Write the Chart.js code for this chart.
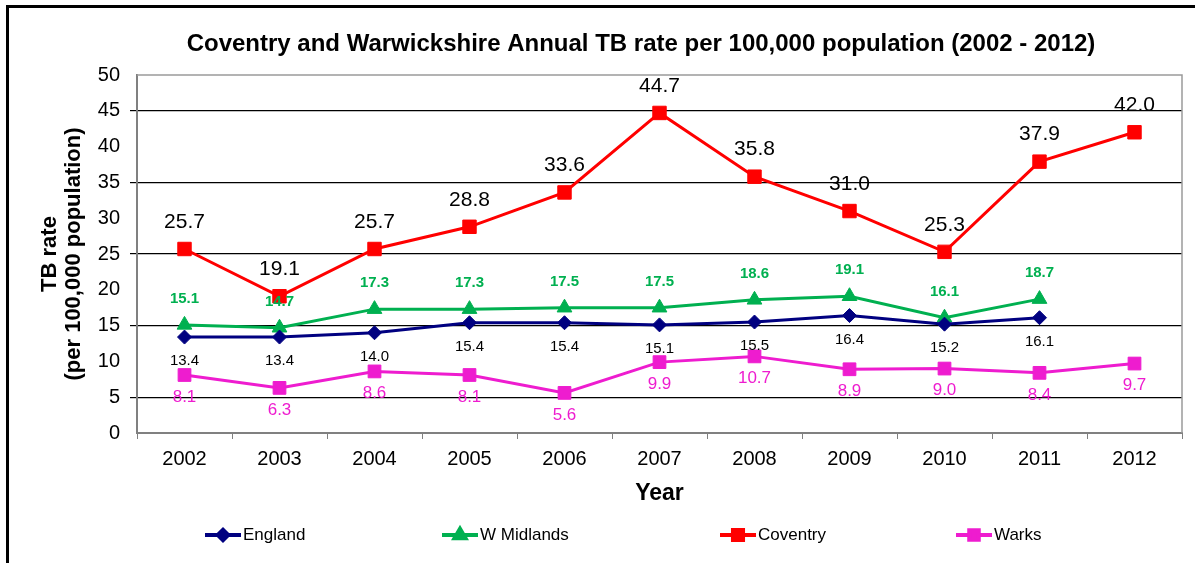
<!DOCTYPE html>
<html>
<head>
<meta charset="utf-8">
<script src="https://cdn.jsdelivr.net/npm/chart.js@4.4.1/dist/chart.umd.min.js"></script>
<style>
  html, body { margin: 0; padding: 0; background: #fff; width: 1195px; height: 563px; overflow: hidden; }
  #frame { position: absolute; left: 6px; top: 5px; width: 1300px; height: 700px; border-left: 3px solid #000; border-top: 3px solid #000; }
  #wrap { position: absolute; left: 0; top: 0; width: 1195px; height: 563px; }
</style>
</head>
<body>
<div id="frame"></div>
<div id="wrap"><canvas id="c" width="1195" height="563"></canvas></div>
<script>
const years = ['2002','2003','2004','2005','2006','2007','2008','2009','2010','2011','2012'];
const england   = [13.4, 13.4, 14.0, 15.4, 15.4, 15.1, 15.5, 16.4, 15.2, 16.1, null];
const wMidlands = [15.1, 14.7, 17.3, 17.3, 17.5, 17.5, 18.6, 19.1, 16.1, 18.7, null];
const coventry  = [25.7, 19.1, 25.7, 28.8, 33.6, 44.7, 35.8, 31.0, 25.3, 37.9, 42.0];
const warks     = [8.1, 6.3, 8.6, 8.1, 5.6, 9.9, 10.7, 8.9, 9.0, 8.4, 9.7];
const yTicks = [0, 5, 10, 15, 20, 25, 30, 35, 40, 45, 50];

const titleText = 'Coventry and Warwickshire Annual TB rate per 100,000 population (2002 - 2012)';
const FONT = '"Liberation Sans", Arial, sans-serif';

const NAVY = '#000080', GREEN = '#00B050', RED = '#FF0000', MAGENTA = '#EE1CCF';

// label styling per dataset: colour, font, offset (px, negative = above)
const labelStyle = [
  { color: '#000', font: '15px ' + FONT, dy: 24 },
  { color: GREEN, font: 'bold 15px ' + FONT, dy: -26 },
  { color: '#000', font: '21px ' + FONT, dy: -27 },
  { color: MAGENTA, font: '17px ' + FONT, dy: 22 }
];

const dataLabels = {
  id: 'dataLabels',
  afterDatasetsDraw(chart) {
    const ctx = chart.ctx;
    chart.data.datasets.forEach((ds, i) => {
      const meta = chart.getDatasetMeta(i);
      const st = labelStyle[i];
      ctx.save();
      ctx.font = st.font;
      ctx.fillStyle = st.color;
      ctx.textAlign = 'center';
      ctx.textBaseline = 'middle';
      meta.data.forEach((pt, j) => {
        const v = ds.data[j];
        if (v === null || v === undefined) return;
        ctx.fillText(v.toFixed(1), pt.x, pt.y + st.dy);
      });
      ctx.restore();
    });
  }
};

const frameBox = {
  id: 'frameBox',
  beforeDatasetsDraw(chart) {
    const a = chart.chartArea, ctx = chart.ctx;
    ctx.save();
    ctx.strokeStyle = '#9a9a9a';
    ctx.lineWidth = 1.5;
    ctx.beginPath();
    ctx.moveTo(a.left, a.top);
    ctx.lineTo(a.right, a.top);
    ctx.lineTo(a.right, a.bottom);
    ctx.stroke();
    ctx.restore();
  }
};

const chartTitle = {
  id: 'chartTitle',
  afterDraw(chart) {
    const ctx = chart.ctx;
    ctx.save();
    ctx.font = 'bold 24px ' + FONT;
    ctx.fillStyle = '#000';
    ctx.textAlign = 'center';
    ctx.textBaseline = 'middle';
    ctx.fillText(titleText, 641, 44);
    ctx.restore();
  }
};

const legendSlots = [205, 442, 720, 956];
const customLegend = {
  id: 'customLegend',
  afterDraw(chart) {
    const ctx = chart.ctx;
    const y = 535;
    chart.data.datasets.forEach((ds, i) => {
      const x0 = legendSlots[i];
      ctx.save();
      ctx.strokeStyle = ds.borderColor;
      ctx.lineWidth = 4;
      ctx.beginPath();
      ctx.moveTo(x0, y);
      ctx.lineTo(x0 + 36, y);
      ctx.stroke();
      ctx.fillStyle = ds.pointBackgroundColor;
      ctx.strokeStyle = ds.pointBorderColor;
      Chart.helpers.drawPoint(ctx, {
        pointStyle: ds.pointStyle,
        radius: ds.pointRadius * 0.75,
        rotation: 0,
        borderWidth: 1
      }, x0 + 18, y);
      ctx.font = '17px ' + FONT;
      ctx.fillStyle = '#000';
      ctx.textAlign = 'left';
      ctx.textBaseline = 'middle';
      ctx.fillText(ds.label, x0 + 38, y);
      ctx.restore();
    });
  }
};

function mkDs(label, data, color, style, radius) {
  return {
    label, data,
    borderColor: color,
    backgroundColor: color,
    pointBackgroundColor: color,
    pointBorderColor: color,
    borderWidth: 3,
    pointStyle: style,
    pointRadius: radius,
    pointHoverRadius: radius,
    pointBorderWidth: 1,
    tension: 0,
    spanGaps: false
  };
}

new Chart(document.getElementById('c'), {
  type: 'line',
  data: {
    labels: years,
    datasets: [
      mkDs('England', england, NAVY, 'rectRot', 7),
      mkDs('W Midlands', wMidlands, GREEN, 'triangle', 8.5),
      mkDs('Coventry', coventry, RED, 'rect', 9.5),
      mkDs('Warks', warks, MAGENTA, 'rect', 9)
    ]
  },
  options: {
    responsive: false,
    animation: false,
    devicePixelRatio: 1,
    layout: { padding: { left: 0, top: 75, right: 13, bottom: 0 } },
    plugins: {
      legend: { display: false },
      title: { display: false },
      tooltip: { enabled: false }
    },
    scales: {
      x: {
        offset: true,
        grid: { display: true, drawOnChartArea: false, offset: true, tickLength: 6, color: '#808080' },
        border: { display: true, color: '#808080', width: 2 },
        ticks: { color: '#000', font: { family: FONT, size: 20 }, padding: 8, maxRotation: 0 },
        title: { display: true, text: 'Year', color: '#000', font: { family: FONT, size: 23, weight: 'bold' }, padding: { top: 0, bottom: 56 } },
        afterFit(scale) { scale.height = 130; }
      },
      y: {
        min: 0, max: 50,
        afterBuildTicks(scale) { scale.ticks = yTicks.map(v => ({ value: v })); },
        grid: {
          tickLength: 7,
          color: ctx => (ctx.tick && ctx.tick.value % 10 === 5) ? '#000' : 'rgba(0,0,0,0)',
          lineWidth: 1.2
        },
        border: { display: true, color: '#808080', width: 2 },
        ticks: { color: '#000', font: { family: FONT, size: 20 }, padding: 10 },
        title: {
          display: true,
          text: ['TB rate', '(per 100,000 population)'],
          color: '#000',
          font: { family: FONT, size: 22, weight: 'bold', lineHeight: 1.1 },
          padding: { top: 38, bottom: 0 }
        },
        afterFit(scale) { scale.width = 137; }
      }
    }
  },
  plugins: [frameBox, dataLabels, chartTitle, customLegend]
});
</script>
</body>
</html>
